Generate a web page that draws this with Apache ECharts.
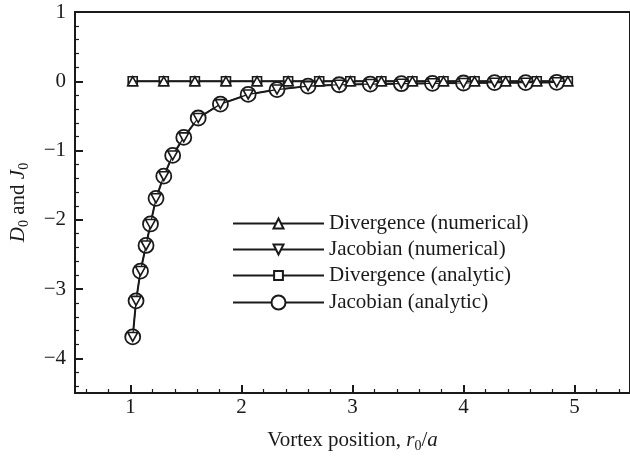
<!DOCTYPE html>
<html>
<head>
<meta charset="utf-8">
<script src="https://cdn.jsdelivr.net/npm/echarts@6/dist/echarts.min.js"></script>
<style>
  html, body { margin: 0; padding: 0; background: #fff; }
  #chart { width: 630px; height: 458px; }
</style>
</head>
<body>
<div id="chart"></div>
<script>
// Vortex positions r0/a where the Jacobian was evaluated
const jacRadii = [1.02, 1.05, 1.09, 1.14, 1.18, 1.23, 1.30, 1.38, 1.48, 1.61, 1.81,
                  2.06, 2.32, 2.60, 2.88, 3.16, 3.44, 3.72, 4.00, 4.28, 4.56, 4.84];
// Jacobian J0 (numerical and analytic coincide)
const jacNumerical = [-3.69, -3.17, -2.74, -2.37, -2.06, -1.69, -1.37, -1.07, -0.81, -0.53, -0.33,
                      -0.19, -0.12, -0.07, -0.05, -0.04, -0.035, -0.03, -0.025, -0.02, -0.02, -0.015];
const jacAnalytic  = [-3.69, -3.17, -2.74, -2.37, -2.06, -1.69, -1.37, -1.07, -0.81, -0.53, -0.33,
                      -0.19, -0.12, -0.07, -0.05, -0.04, -0.035, -0.03, -0.025, -0.02, -0.02, -0.015];
// Vortex positions where the divergence was evaluated
const divRadii = [1.02, 1.30, 1.58, 1.86, 2.14, 2.42, 2.70, 2.98, 3.26, 3.54, 3.82, 4.10, 4.38, 4.66, 4.94];
// Divergence D0
const divNumerical = [0, 0, 0, 0, 0, 0, 0, 0, 0, 0, 0, 0, 0, 0, 0];
const divAnalytic  = [0, 0, 0, 0, 0, 0, 0, 0, 0, 0, 0, 0, 0, 0, 0];

const seriesNames = ['Divergence (numerical)', 'Jacobian (numerical)', 'Divergence (analytic)', 'Jacobian (analytic)'];

// Tick positions
const xMajorTicks = [1, 2, 3, 4, 5];
const xMinorTicks = [0.6, 0.8, 1.2, 1.4, 1.6, 1.8, 2.2, 2.4, 2.6, 2.8, 3.2, 3.4, 3.6, 3.8,
                     4.2, 4.4, 4.6, 4.8, 5.2, 5.4];
const yMajorTicks = [-4, -3, -2, -1, 0, 1];
const yMinorTicks = [-4.4, -4.2, -3.8, -3.6, -3.4, -3.2, -2.8, -2.6, -2.4, -2.2, -1.8, -1.6, -1.4, -1.2,
                     -0.8, -0.6, -0.4, -0.2, 0.2, 0.4, 0.6, 0.8];

const FONT = 'Liberation Serif';
const INK = '#1a1a1a';
const FS = 21;
const pairs = (xs, ys) => xs.map((x, i) => [x, ys[i]]);

const chart = echarts.init(document.getElementById('chart'), null, { renderer: 'canvas' });

const xRange = { min: 0.5, max: 5.5 };
const yRange = { min: -4.5, max: 1 };

const baseX = { type: 'value', ...xRange, position: 'bottom', splitLine: { show: false } };
const baseY = { type: 'value', ...yRange, position: 'left', splitLine: { show: false } };

const minus = v => (v < 0 ? '\u2212' + (-v) : String(v));

const richName = {
  t: { fontFamily: FONT, fontSize: FS, color: INK },
  i: { fontFamily: FONT, fontSize: FS, fontStyle: 'italic', color: INK },
  s: { fontFamily: FONT, fontSize: 14, color: INK, padding: [11, 0, 0, 0] }
};

function legendFor(name, top, itemHeight) {
  return {
    data: [name], left: 232, top: top, orient: 'horizontal', padding: 0,
    itemWidth: 91, itemHeight: itemHeight, selectedMode: false,
    textStyle: { fontFamily: FONT, fontSize: FS, color: INK }
  };
}

chart.setOption({
  backgroundColor: '#fff',
  animation: false,
  grid: { left: 72, top: 12, right: -6, bottom: 60, show: true, borderColor: INK, borderWidth: 2 },
  legend: [
    legendFor(seriesNames[0], 213, 12.5),
    legendFor(seriesNames[1], 239, 12.5),
    legendFor(seriesNames[2], 265, 11),
    legendFor(seriesNames[3], 292, 17.5)
  ],
  xAxis: [
    Object.assign({}, baseX, {
      name: '{t|Vortex position, }{i|r}{s|0}{t|/}{i|a}',
      nameLocation: 'middle', nameGap: 35,
      nameTextStyle: { fontFamily: FONT, fontSize: FS, color: INK, rich: richName },
      axisLine: { show: true, onZero: false, lineStyle: { color: INK, width: 2 } },
      axisTick: { show: true, inside: true, length: 8, lineStyle: { color: INK, width: 2 }, customValues: xMajorTicks },
      axisLabel: { show: true, customValues: xMajorTicks, margin: 4, fontFamily: FONT, fontSize: FS, color: INK }
    }),
    Object.assign({}, baseX, {
      axisLine: { show: false, onZero: false },
      axisTick: { show: true, inside: true, length: 4, lineStyle: { color: INK, width: 1.2 }, customValues: xMinorTicks },
      axisLabel: { show: false }
    })
  ],
  yAxis: [
    Object.assign({}, baseY, {
      name: '{i|D}{s|0}{t| and }{i|J}{s|0}',
      nameLocation: 'middle', nameGap: 44, nameRotate: 90,
      nameTextStyle: { fontFamily: FONT, fontSize: FS, color: INK, rich: richName },
      axisLine: { show: true, onZero: false, lineStyle: { color: INK, width: 2 } },
      axisTick: { show: true, inside: true, length: 8, lineStyle: { color: INK, width: 2 }, customValues: yMajorTicks },
      axisLabel: { show: true, customValues: yMajorTicks, margin: 9, fontFamily: FONT, fontSize: FS, color: INK, formatter: minus }
    }),
    Object.assign({}, baseY, {
      axisLine: { show: false, onZero: false },
      axisTick: { show: true, inside: true, length: 4, lineStyle: { color: INK, width: 1.2 }, customValues: yMinorTicks },
      axisLabel: { show: false }
    })
  ],
  series: [
    {
      name: seriesNames[0], type: 'line', data: pairs(divRadii, divNumerical), z: 4,
      symbol: 'triangle', symbolSize: [10, 9],
      lineStyle: { color: INK, width: 1.4 },
      itemStyle: { color: '#fff', borderColor: INK, borderWidth: 1.6 }
    },
    {
      name: seriesNames[1], type: 'line', data: pairs(jacRadii, jacNumerical), z: 4,
      symbol: 'triangle', symbolRotate: 180, symbolSize: [10, 9],
      lineStyle: { color: INK, width: 1.2 },
      itemStyle: { color: '#fff', borderColor: INK, borderWidth: 1.6 }
    },
    {
      name: seriesNames[2], type: 'line', data: pairs(divRadii, divAnalytic), z: 3,
      symbol: 'rect', symbolSize: 9,
      lineStyle: { color: INK, width: 1.8 },
      itemStyle: { color: '#fff', borderColor: INK, borderWidth: 1.6 }
    },
    {
      name: seriesNames[3], type: 'line', data: pairs(jacRadii, jacAnalytic), z: 3,
      symbol: 'circle', symbolSize: 15,
      lineStyle: { color: INK, width: 2 },
      itemStyle: { color: '#fff', borderColor: INK, borderWidth: 1.8 }
    }
  ]
});
</script>
</body>
</html>
